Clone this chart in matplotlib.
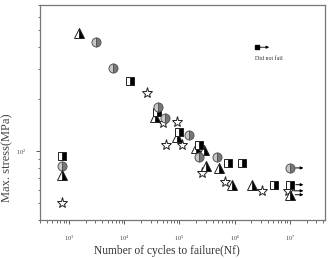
import matplotlib
matplotlib.use("Agg")
import matplotlib.pyplot as plt
from matplotlib.ticker import LogLocator, LogFormatterMathtext, NullFormatter

plt.rcParams['font.family'] = ['Liberation Serif', 'DejaVu Serif']
plt.rcParams['mathtext.fontset'] = 'stix'

# ---- data (cycles to failure, max stress MPa) ----
tri_N = [1510, 35500, 92000, 202000, 282000, 306000, 525000, 900000, 2.07e6]
tri_S = [481, 157, 120, 105, 101, 82, 80, 64, 64]
cir_N = [3060, 6200, 40200, 53700, 151000, 229000, 484000]
cir_S = [427, 302, 180, 155, 124, 92, 92]
sq_N = [12600, 38500, 100000, 229000, 764000, 1.36e6, 5.1e6]
sq_S = [254, 168, 129, 108, 85, 85, 64]
star_N = [25400, 49400, 92000, 58300, 109000, 260000, 676000, 3.1e6]
star_S = [216, 145, 147, 108, 108, 75, 66, 59]

# run-outs (did not fail)
run_tri_N, run_tri_S = [1.0e7], [56]
run_cir_N, run_cir_S = [1.0e7], [80]
run_sq_N, run_sq_S = [1.02e7], [64]
run_star_N, run_star_S = [9.3e6], [59]

# key symbols at left
key_N = 750
key_S = {'sq': 93.5, 'cir': 82, 'tri': 72.6, 'star': 50}
did_not_fail_N, did_not_fail_S = 2.54e6, 399
did_not_fail_text = "Did not fail"

xlabel = "Number of cycles to failure(Nf)"
ylabel = "Max. stress(MPa)"

# ---- styles ----
sty = {
    'tri': dict(marker='^', ms=6.5, fillstyle='right', mfc='black', mfcalt='white', mec='#222222', mew=0.7),
    'cir': dict(marker='o', ms=6.5, fillstyle='right', mfc='#777777', mfcalt='#c8c8c8', mec='#555555', mew=0.7),
    'sq': dict(marker='s', ms=5.5, fillstyle='right', mfc='black', mfcalt='white', mec='#222222', mew=0.7),
    'star': dict(marker='*', ms=8, mfc='white', mec='#222222', mew=0.7),
}

fig = plt.figure(figsize=(3.31, 2.58), dpi=100)
ax = fig.add_axes([40/331, 38/258, 285/331, 215/258])

def pl(N, S, key):
    s = sty[key]
    ax.plot(N, S, ls='none', marker=s['marker'], markersize=s['ms'],
            fillstyle=s.get('fillstyle', 'full'), markerfacecolor=s['mfc'],
            markerfacecoloralt=s.get('mfcalt', 'none'), markeredgecolor=s['mec'],
            markeredgewidth=s['mew'], zorder=3)

pl(star_N, star_S, 'star')
pl(tri_N, tri_S, 'tri')
pl(sq_N, sq_S, 'sq')
pl(cir_N, cir_S, 'cir')

for N, S, k in [(run_star_N, run_star_S, 'star'), (run_tri_N, run_tri_S, 'tri'),
                (run_sq_N, run_sq_S, 'sq'), (run_cir_N, run_cir_S, 'cir')]:
    pl(N, S, k)
    for n, s in zip(N, S):
        ax.annotate('', xy=(1.75e7, s), xytext=(n * 1.25, s),
                    arrowprops=dict(arrowstyle='-|>', color='black', lw=0.7,
                                    mutation_scale=4, shrinkA=0, shrinkB=0), zorder=2)

for k in ['sq', 'cir', 'tri', 'star']:
    pl([key_N], [key_S[k]], k)

# did not fail key
ax.plot([did_not_fail_N], [did_not_fail_S], ls='none', marker='s', markersize=3.5,
        markerfacecolor='black', markeredgecolor='black', zorder=3)
ax.annotate('', xy=(did_not_fail_N * 1.65, did_not_fail_S), xytext=(did_not_fail_N * 1.05, did_not_fail_S),
            arrowprops=dict(arrowstyle='-|>', color='black', lw=0.6, mutation_scale=4,
                            shrinkA=0, shrinkB=0))
ax.text(did_not_fail_N * 0.93, did_not_fail_S * 0.855, did_not_fail_text, fontsize=4.2,
        ha='left', va='center', color='#333333')

ax.set_xscale('log')
ax.set_yscale('log')
ax.set_xlim(300, 4.3e7)
ax.set_ylim(40, 700)

ax.xaxis.set_major_locator(LogLocator(base=10, numticks=20))
ax.xaxis.set_minor_locator(LogLocator(base=10, subs=range(2, 10), numticks=20))
ax.yaxis.set_major_locator(LogLocator(base=10, numticks=20))
ax.yaxis.set_minor_locator(LogLocator(base=10, subs=range(2, 10), numticks=20))
ax.xaxis.set_major_formatter(LogFormatterMathtext())
ax.yaxis.set_major_formatter(LogFormatterMathtext())
ax.xaxis.set_minor_formatter(NullFormatter())
ax.yaxis.set_minor_formatter(NullFormatter())

ax.tick_params(axis='both', which='major', direction='out', length=3, width=0.7,
               colors='#555555', labelsize=4.5, labelcolor='#444444', pad=7)
ax.tick_params(axis='both', which='minor', direction='out', length=1.8, width=0.6, colors='#555555')
ax.tick_params(top=False, right=False, which='both')

for sp in ax.spines.values():
    sp.set_color('#777777')
    sp.set_linewidth(0.9)

ax.set_xlabel(xlabel, fontsize=8.3, color='#333333')
ax.set_ylabel(ylabel, fontsize=9, color='#444444')
ax.xaxis.set_label_coords(0.446, -0.118)
ax.yaxis.set_label_coords(-0.095, 0.29)

fig.savefig('out.png', dpi=100)
